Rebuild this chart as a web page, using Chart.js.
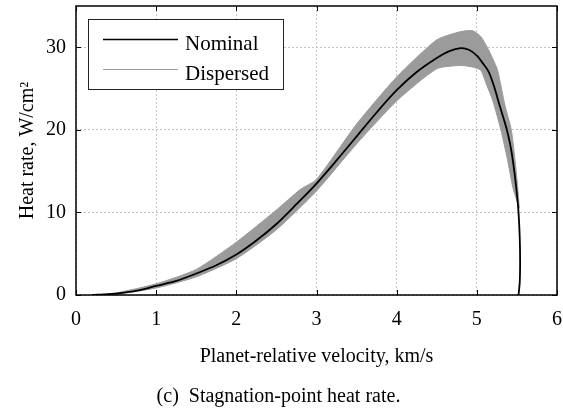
<!DOCTYPE html>
<html>
<head>
<meta charset="utf-8">
<script src="https://cdn.jsdelivr.net/npm/chart.js@4/dist/chart.umd.min.js"></script>
<style>
html,body{margin:0;padding:0;background:#fff;}
#wrap{width:563px;height:413px;}
</style>
</head>
<body>
<div id="wrap"><canvas id="c" width="563" height="413"></canvas></div>
<script>
// ---- Data ----
const xTickValues = [0, 1, 2, 3, 4, 5, 6];
const yTickValues = [0, 10, 20, 30];

const nominalVelocity = [0.20,0.40,0.60,0.80,1.00,1.25,1.50,1.75,2.00,2.25,2.50,2.75,3.00,3.25,3.50,3.75,4.00,4.25,4.50,4.65,4.80,4.90,5.00,5.08,5.15,5.22,5.28,5.33,5.38,5.43,5.47,5.50,5.52,5.535,5.54,5.535,5.52];
const nominalHeatRate = [0.0,0.1,0.3,0.6,1.1,1.7,2.6,3.6,4.9,6.6,8.6,11.0,13.5,16.3,19.2,22.1,24.8,27.0,28.7,29.5,29.9,29.7,29.0,28.0,27.0,25.1,23.1,21.5,19.8,17.5,14.8,12.2,10.0,7.0,4.0,1.5,0.0];

// Envelope of the dispersed trajectories: upper/outer edge and lower/inner edge
const dispersedUpperVelocity = [0.20,0.50,1.00,1.50,2.00,2.50,2.80,3.00,3.50,4.00,4.50,4.80,4.95,5.05,5.13,5.20,5.26,5.35,5.43,5.48,5.51,5.53];
const dispersedUpperHeatRate = [0.0,0.25,1.35,3.1,6.4,10.3,12.8,14.0,20.7,26.4,30.9,31.9,32.0,31.3,30.0,28.6,27.2,23.0,20.0,16.0,13.0,10.5];
const dispersedLowerVelocity = [5.53,5.45,5.38,5.30,5.20,5.12,5.05,4.95,4.80,4.50,4.00,3.50,3.00,2.50,2.00,1.50,1.00,0.50,0.20];
const dispersedLowerHeatRate = [10.5,13.0,16.5,20.0,23.5,25.5,27.2,27.6,27.8,27.4,23.5,18.3,12.6,7.9,4.4,2.2,0.85,0.1,0.0];

const seriesNames = ['Nominal', 'Dispersed'];
const xTitle = 'Planet-relative velocity, km/s';
const yTitle = 'Heat rate, W/cm\u00B2';
const caption = '(c)  Stagnation-point heat rate.';

// ---- Build data ----
const nominalData = nominalVelocity.map((v, i) => ({x: v, y: nominalHeatRate[i]}));
const dispersedData = dispersedUpperVelocity.map((v, i) => ({x: v, y: dispersedUpperHeatRate[i]}))
  .concat(dispersedLowerVelocity.map((v, i) => ({x: v, y: dispersedLowerHeatRate[i]})));

const SERIF = "'Liberation Serif', 'Times New Roman', serif";
const GRAY = '#9b9b9b';

const framePlugin = {
  id: 'frameAndTicks',
  afterDatasetsDraw(chart) {
    const ctx = chart.ctx;
    const a = chart.chartArea;
    const xs = chart.scales.x, ys = chart.scales.y;
    ctx.save();
    ctx.strokeStyle = '#000';
    ctx.lineWidth = 1;
    ctx.beginPath();
    xTickValues.forEach(v => {
      const px = Math.round(xs.getPixelForValue(v)) + 0.5;
      ctx.moveTo(px, a.bottom); ctx.lineTo(px, a.bottom - 5);
      ctx.moveTo(px, a.top); ctx.lineTo(px, a.top + 5);
    });
    yTickValues.forEach(v => {
      const py = Math.round(ys.getPixelForValue(v)) + 0.5;
      ctx.moveTo(a.left, py); ctx.lineTo(a.left + 5, py);
      ctx.moveTo(a.right, py); ctx.lineTo(a.right - 5, py);
    });
    ctx.stroke();
    ctx.lineWidth = 1.5;
    ctx.strokeRect(a.left, a.top, a.right - a.left, a.bottom - a.top);

    // legend box
    const lx = 88, ly = 19, lw = 195, lh = 70;
    ctx.fillStyle = '#fff';
    ctx.fillRect(lx, ly, lw, lh);
    ctx.lineWidth = 1;
    ctx.strokeStyle = '#222';
    ctx.strokeRect(lx + 0.5, ly + 0.5, lw, lh);
    const ds = chart.data.datasets;
    const rows = [39.5, 69.5];
    ctx.font = '21px ' + SERIF;
    ctx.textBaseline = 'alphabetic';
    ctx.textAlign = 'left';
    ds.forEach((d, i) => {
      ctx.strokeStyle = d.borderColor;
      ctx.lineWidth = i === 0 ? 1.5 : 1;
      ctx.beginPath();
      ctx.moveTo(103, rows[i]); ctx.lineTo(178, rows[i]);
      ctx.stroke();
      ctx.fillStyle = '#000';
      ctx.fillText(d.label, 185, rows[i] + 10);
    });
    ctx.restore();
  }
};

new Chart(document.getElementById('c'), {
  type: 'scatter',
  data: {
    datasets: [
      {
        label: seriesNames[0],
        data: nominalData,
        showLine: true,
        borderColor: '#000',
        borderWidth: 1.8,
        pointRadius: 0,
        tension: 0.3,
        fill: false
      },
      {
        label: seriesNames[1],
        data: dispersedData,
        showLine: true,
        borderColor: GRAY,
        backgroundColor: GRAY,
        borderWidth: 1,
        pointRadius: 0,
        tension: 0.2,
        fill: 'shape'
      }
    ]
  },
  options: {
    responsive: false,
    animation: false,
    devicePixelRatio: 1,
    layout: {padding: {top: 6, right: 6, left: 0, bottom: 0}},
    plugins: {
      legend: {display: false},
      tooltip: {enabled: false},
      title: {
        display: true,
        position: 'bottom',
        text: caption,
        color: '#000',
        font: {family: SERIF, size: 20, weight: 'normal', lineHeight: 1.2},
        padding: {top: 0, bottom: 4}
      }
    },
    scales: {
      x: {
        type: 'linear',
        min: 0, max: 6,
        afterBuildTicks: s => { s.ticks = xTickValues.map(v => ({value: v})); },
        afterFit: s => { s.height = 90; s.paddingLeft = 0; s.paddingRight = 0; },
        grid: {color: '#c4c4c4', lineWidth: 1, drawTicks: false},
        border: {display: false, dash: [2, 2]},
        ticks: {color: '#000', padding: 13, font: {family: SERIF, size: 20}},
        title: {display: true, text: xTitle, color: '#000', font: {family: SERIF, size: 20, lineHeight: 1.2}, padding: {top: 16, bottom: 16}}
      },
      y: {
        type: 'linear',
        min: 0, max: 35,
        afterBuildTicks: s => { s.ticks = yTickValues.map(v => ({value: v})); },
        afterFit: s => { s.width = 76; s.paddingTop = 0; s.paddingBottom = 0; },
        grid: {color: '#c4c4c4', lineWidth: 1, drawTicks: false},
        border: {display: false, dash: [2, 2]},
        ticks: {color: '#000', padding: 10, font: {family: SERIF, size: 20}},
        title: {display: true, text: yTitle, color: '#000', font: {family: SERIF, size: 20, lineHeight: 1.2}, padding: {top: 16, bottom: 16}}
      }
    }
  },
  plugins: [framePlugin]
});
</script>
</body>
</html>
